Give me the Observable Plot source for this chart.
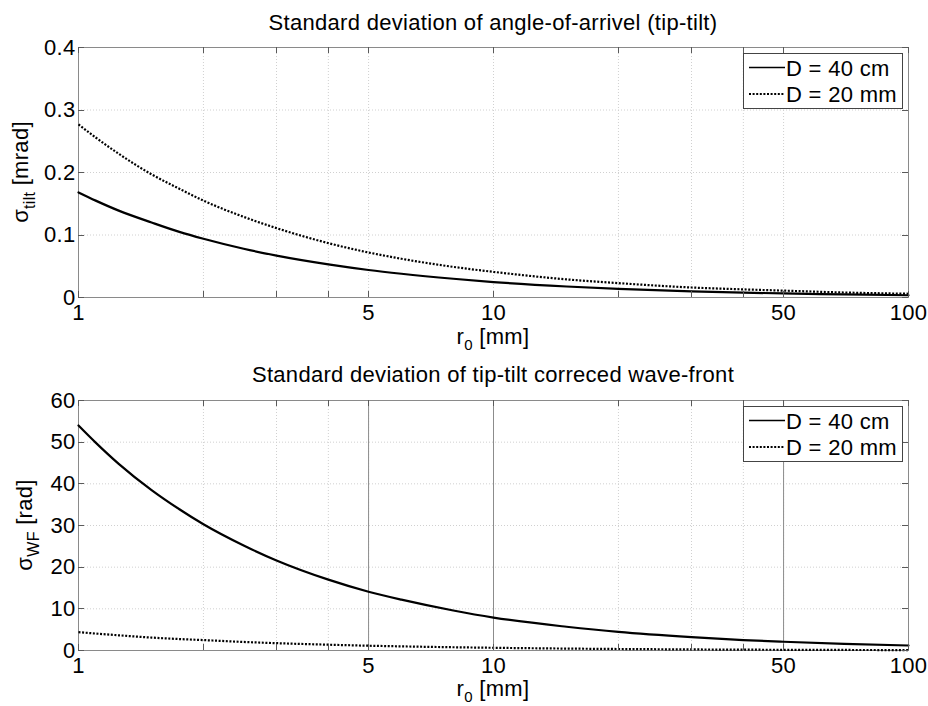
<!DOCTYPE html>
<html><head><meta charset="utf-8">
<script src="https://cdn.jsdelivr.net/npm/d3@7"></script>
<script src="https://cdn.jsdelivr.net/npm/@observablehq/plot@0.6"></script>
<style>
body{margin:0;background:#fff;}
#chart svg{display:block;}
</style>
</head><body><div id="chart"></div>
<script>
// ---- data ----
const r0 = [1, 1.1, 1.25, 1.5, 1.75, 2, 2.5, 3, 4, 5, 6, 8, 10, 15, 20, 30, 40, 50, 70, 100];
const tilt40cm = [0.168, 0.155, 0.139, 0.120, 0.105, 0.094, 0.078, 0.067, 0.053, 0.044, 0.038, 0.030, 0.0247, 0.0176, 0.0138, 0.0099, 0.0078, 0.0065, 0.0049, 0.0036];
const tilt20mm = [0.277, 0.256, 0.230, 0.197, 0.174, 0.155, 0.129, 0.111, 0.087, 0.072, 0.062, 0.049, 0.041, 0.029, 0.023, 0.016, 0.013, 0.011, 0.008, 0.006];
const wf40cm = [54, 49.9, 44.8, 38.5, 33.9, 30.3, 25.2, 21.6, 17.0, 14.1, 12.2, 9.6, 7.9, 5.7, 4.45, 3.2, 2.5, 2.1, 1.6, 1.2];
const wf20mm = [4.4, 4.07, 3.65, 3.1, 2.75, 2.5, 2.05, 1.76, 1.39, 1.15, 0.99, 0.78, 0.65, 0.46, 0.36, 0.26, 0.2, 0.17, 0.13, 0.1];
const xGrid = [1, 2, 3, 4, 5, 10, 20, 30, 40, 50, 100];
const xTickLabels = [1, 5, 10, 50, 100];
const tiltTicks = [0, 0.1, 0.2, 0.3, 0.4];
const wfTicks = [0, 10, 20, 30, 40, 50, 60];
const seriesNames = ["D = 40 cm", "D = 20 mm"];
const titles = ["Standard deviation of angle-of-arrivel (tip-tilt)", "Standard deviation of tip-tilt correced wave-front"];

const FONT = '"Liberation Sans", Arial, Helvetica, sans-serif';
const FS = 22;
const LS = "0.3px";
const DASH = "2,1.6";

function panel(cfg) {
  const d40 = r0.map((r, i) => ({r, v: cfg.s40[i]}));
  const d20 = r0.map((r, i) => ({r, v: cfg.s20[i]}));
  const yT = cfg.yTicks;
  const chart = Plot.plot({
    width: 928, height: cfg.height,
    marginLeft: 78, marginRight: 20, marginTop: cfg.mt, marginBottom: cfg.mb,
    style: {fontFamily: FONT, fontSize: FS + "px", letterSpacing: LS, color: "#000", background: "#fff", overflow: "visible"},
    x: {type: "log", domain: [1, 100], ticks: xTickLabels, tickFormat: d => String(d), tickSize: 0, tickPadding: 7, label: null},
    y: {domain: [yT[0], yT[yT.length - 1]], ticks: yT, tickFormat: cfg.yFmt, tickSize: 0, tickPadding: 3, label: null},
    marks: [
      Plot.ruleY(yT.slice(1, -1), {stroke: "#d0d0d0", strokeDasharray: "1,2"}),
      Plot.ruleX(xGrid.slice(1, -1), {stroke: "#d0d0d0", strokeDasharray: "1,2"}),
      Plot.ruleX(cfg.solidX, {stroke: "#8c8c8c", strokeWidth: 1}),
      Plot.frame({stroke: "#8a8a8a"}),
      Plot.line(d20, {x: "r", y: "v", stroke: "#000", strokeWidth: 2.2, strokeDasharray: DASH, strokeLinecap: "butt", curve: "monotone-x"}),
      Plot.line(d40, {x: "r", y: "v", stroke: "#000", strokeWidth: 2.2, curve: "monotone-x"})
    ]
  });
  const svg = d3.select(chart);
  const xs = chart.scale("x"), ys = chart.scale("y");
  const x0 = xs.range[0], x1 = xs.range[1];
  const yb = ys.apply(yT[0]), yt = ys.apply(yT[yT.length - 1]);
  const g = svg.append("g").attr("stroke", "#5a5a5a").attr("stroke-width", 1);
  const TL = 6;
  for (const v of xGrid) {
    const px = Math.round(xs.apply(v)) + 0.5;
    g.append("line").attr("x1", px).attr("x2", px).attr("y1", yb).attr("y2", yb - TL);
    g.append("line").attr("x1", px).attr("x2", px).attr("y1", yt).attr("y2", yt + TL);
  }
  for (const v of yT) {
    const py = Math.round(ys.apply(v)) + 0.5;
    g.append("line").attr("x1", x0).attr("x2", x0 + TL).attr("y1", py).attr("y2", py);
    g.append("line").attr("x1", x1).attr("x2", x1 - TL).attr("y1", py).attr("y2", py);
  }
  const cx = (x0 + x1) / 2, cy = (yb + yt) / 2;
  const txt = (sel) => sel.attr("fill", "#000").style("font-size", FS + "px").style("font-family", FONT).style("letter-spacing", LS);
  // title
  txt(svg.append("text").attr("x", cx).attr("y", cfg.titleY).attr("text-anchor", "middle")).text(cfg.title);
  // x label r0 [mm]
  const xl = txt(svg.append("text").attr("x", cx).attr("y", yb + cfg.xlabOff).attr("text-anchor", "middle"));
  xl.append("tspan").text("r");
  xl.append("tspan").attr("dy", 6).style("font-size", "15px").text("0");
  xl.append("tspan").attr("dy", -6).text(" [mm]");
  // y label
  const yl = txt(svg.append("text").attr("transform", `translate(${cfg.ylabX},${cy}) rotate(-90)`)
    .attr("text-anchor", "middle"));
  yl.append("tspan").text("σ");
  yl.append("tspan").attr("dy", 7).style("font-size", "16px").text(cfg.ySub);
  yl.append("tspan").attr("dy", -7).text(" " + cfg.yUnit);
  // legend
  const lg = svg.append("g");
  const bx0 = x1 - 165, bx1 = x1 - 6, by0 = yt + 6, by1 = yt + 61;
  lg.append("rect").attr("x", bx0 + 0.5).attr("y", by0 + 0.5).attr("width", bx1 - bx0).attr("height", by1 - by0)
    .attr("fill", "#fff").attr("stroke", "#444").attr("stroke-width", 1);
  const rows = [yt + 20.5, yt + 47];
  rows.forEach((ry, i) => {
    lg.append("line").attr("x1", bx0 + 6).attr("x2", bx0 + 42).attr("y1", ry).attr("y2", ry)
      .attr("stroke", "#000").attr("stroke-width", i ? 2 : 1.6).attr("stroke-dasharray", i ? DASH : null);
    txt(lg.append("text").attr("x", bx0 + 43).attr("y", ry + 8).attr("text-anchor", "start")).text(seriesNames[i]);
  });
  return chart;
}

const root = document.getElementById("chart");
root.appendChild(panel({
  s40: tilt40cm, s20: tilt20mm, yTicks: tiltTicks,
  yFmt: d => d === 0 ? "0" : d.toFixed(1),
  height: 347, mt: 47, mb: 50, solidX: [],
  title: titles[0], titleY: 30, xlabOff: 47, ylabX: 28, ySub: "tilt", yUnit: "[mrad]"
}));
root.appendChild(panel({
  s40: wf40cm, s20: wf20mm, yTicks: wfTicks,
  yFmt: d => String(d),
  height: 359, mt: 53, mb: 56, solidX: [5, 10, 50],
  title: titles[1], titleY: 35, xlabOff: 46, ylabX: 32, ySub: "WF", yUnit: "[rad]"
}));
</script>
</body></html>
